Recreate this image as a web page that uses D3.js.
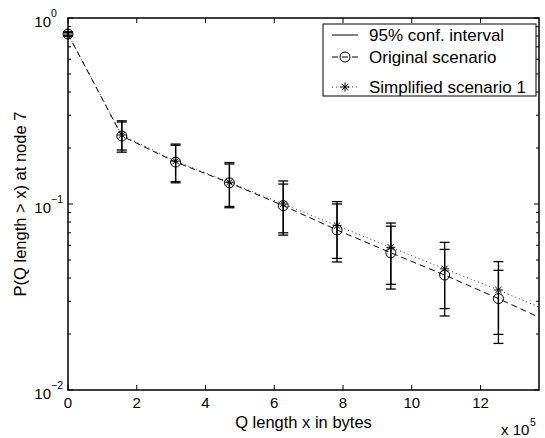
<!DOCTYPE html>
<html><head><meta charset="utf-8">
<script src="https://cdn.jsdelivr.net/npm/d3@7"></script>
<style>body{margin:0;background:#fff}svg{display:block}text{font-family:"Liberation Sans",Arial,sans-serif;fill:#000}</style>
</head><body><svg id="c" width="545" height="438"></svg>
<script>
// ---- data ----
const sampleX = [0, 156500, 313000, 469500, 626000, 782500, 939000, 1095500, 1252000];
const originalY = [0.82, 0.232, 0.168, 0.130, 0.098, 0.0725, 0.0547, 0.0415, 0.031];
const simplifiedY = [0.82, 0.235, 0.170, 0.131, 0.100, 0.0765, 0.0585, 0.0448, 0.0345];
const originalLo = [0.80, 0.190, 0.130, 0.0955, 0.068, 0.0488, 0.0349, 0.025, 0.0178];
const originalHi = [0.84, 0.276, 0.207, 0.164, 0.128, 0.100, 0.076, 0.057, 0.044];
const simplifiedLo = [0.80, 0.195, 0.132, 0.097, 0.070, 0.051, 0.037, 0.0274, 0.0199];
const simplifiedHi = [0.84, 0.280, 0.210, 0.167, 0.133, 0.103, 0.079, 0.0622, 0.049];
const lineEndX = 1370000;
const originalEndY = 0.0246;
const simplifiedEndY = 0.0279;
const xTicks = [0, 200000, 400000, 600000, 800000, 1000000, 1200000];
const xTickLabels = ["0", "2", "4", "6", "8", "10", "12"];
const yMajorTicks = [0.01, 0.1, 1];
const yTickExponents = ["\u22122", "\u22121", "0"];
const legendLabels = ["95% conf. interval", "Original scenario", "Simplified scenario 1"];

// ---- layout ----
const L = 68, R = 539, T = 18, B = 390;
const svg = d3.select("#c");
const x = d3.scaleLinear().domain([0, lineEndX]).range([L, R]);
const y = d3.scaleLog().domain([0.01, 1]).range([B, T]);

// minor ticks
const minor = [];
[0.01, 0.1].forEach(d => { for (let k = 2; k <= 9; k++) minor.push(d * k); });
const tk = svg.append("g").attr("stroke", "#000").attr("stroke-width", 1);
minor.forEach(v => {
  tk.append("line").attr("x1", L).attr("x2", L + 3).attr("y1", y(v)).attr("y2", y(v));
  tk.append("line").attr("x1", R).attr("x2", R - 3).attr("y1", y(v)).attr("y2", y(v));
});
yMajorTicks.forEach(v => {
  tk.append("line").attr("x1", L).attr("x2", L + 5).attr("y1", y(v)).attr("y2", y(v));
  tk.append("line").attr("x1", R).attr("x2", R - 5).attr("y1", y(v)).attr("y2", y(v));
});
xTicks.forEach(v => {
  tk.append("line").attr("x1", x(v)).attr("x2", x(v)).attr("y1", B).attr("y2", B - 5);
  tk.append("line").attr("x1", x(v)).attr("x2", x(v)).attr("y1", T).attr("y2", T + 5);
});

// tick labels
xTicks.forEach((v, i) => {
  svg.append("text").attr("x", x(v)).attr("y", B + 18).attr("text-anchor", "middle")
    .attr("font-size", 15).text(xTickLabels[i]);
});
yMajorTicks.forEach((v, i) => {
  svg.append("text").attr("x", 51).attr("y", y(v) + 9).attr("text-anchor", "end").attr("font-size", 15).text("10");
  svg.append("text").attr("x", 51).attr("y", y(v) - 1).attr("font-size", 10.5).text(yTickExponents[i]);
});

// axis labels
svg.append("text").attr("x", (L + R) / 2).attr("y", 428).attr("text-anchor", "middle")
  .attr("font-size", 16.5).text("Q length x in bytes");
svg.append("text").attr("transform", `translate(26,${(T + B) / 2}) rotate(-90)`).attr("text-anchor", "middle")
  .attr("font-size", 16.5).text("P(Q length > x) at node 7");
svg.append("text").attr("x", 501).attr("y", 435).attr("font-size", 15).text("x 10");
svg.append("text").attr("x", 530).attr("y", 426).attr("font-size", 10.5).text("5");

// lines
const origPts = sampleX.map((d, i) => [d, originalY[i]]).concat([[lineEndX, originalEndY]]);
const simpPts = sampleX.map((d, i) => [d, simplifiedY[i]]).concat([[lineEndX, simplifiedEndY]]);
const line = d3.line().x(d => x(d[0])).y(d => y(d[1]));
svg.append("path").attr("d", line(simpPts)).attr("fill", "none").attr("stroke", "#000")
  .attr("stroke-width", 0.8).attr("stroke-dasharray", "1,3");
svg.append("path").attr("d", line(origPts)).attr("fill", "none").attr("stroke", "#000")
  .attr("stroke-width", 1).attr("stroke-dasharray", "6,4");

// error bars
const eb = svg.append("g").attr("stroke", "#000").attr("stroke-width", 1.3);
function errBars(lo, hi) {
  sampleX.forEach((d, i) => {
    const cx = x(d);
    eb.append("line").attr("x1", cx).attr("x2", cx).attr("y1", y(lo[i])).attr("y2", y(hi[i]));
    [lo[i], hi[i]].forEach(v => eb.append("line").attr("x1", cx - 5).attr("x2", cx + 5).attr("y1", y(v)).attr("y2", y(v)));
  });
}
errBars(originalLo, originalHi);
errBars(simplifiedLo, simplifiedHi);

// markers
function circleMark(g, cx, cy) {
  g.append("circle").attr("cx", cx).attr("cy", cy).attr("r", 5).attr("fill", "none").attr("stroke", "#000").attr("stroke-width", 1);
}
function starMark(g, cx, cy) {
  const s = 4.5, d = 3.2;
  const p = `M${cx - s},${cy}L${cx + s},${cy}M${cx},${cy - s}L${cx},${cy + s}M${cx - d},${cy - d}L${cx + d},${cy + d}M${cx - d},${cy + d}L${cx + d},${cy - d}`;
  g.append("path").attr("d", p).attr("stroke", "#000").attr("stroke-width", 1).attr("fill", "none");
}
const mk = svg.append("g");
sampleX.forEach((d, i) => circleMark(mk, x(d), y(originalY[i])));
sampleX.forEach((d, i) => starMark(mk, x(d), y(simplifiedY[i])));

// frame
svg.append("rect").attr("x", L).attr("y", T).attr("width", R - L).attr("height", B - T)
  .attr("fill", "none").attr("stroke", "#000").attr("stroke-width", 1.5);

// legend
const lg = svg.append("g");
lg.append("rect").attr("x", 323).attr("y", 24).attr("width", 213).attr("height", 72)
  .attr("fill", "#fff").attr("stroke", "#000").attr("stroke-width", 1);
const ly = [35, 57, 87];
lg.append("line").attr("x1", 332).attr("x2", 358).attr("y1", ly[0]).attr("y2", ly[0]).attr("stroke", "#000").attr("stroke-width", 1);
lg.append("line").attr("x1", 332).attr("x2", 358).attr("y1", ly[1]).attr("y2", ly[1]).attr("stroke", "#000").attr("stroke-width", 1).attr("stroke-dasharray", "6,4");
circleMark(lg, 345, ly[1]);
lg.append("line").attr("x1", 332).attr("x2", 358).attr("y1", ly[2]).attr("y2", ly[2]).attr("stroke", "#000").attr("stroke-width", 0.8).attr("stroke-dasharray", "1,3");
starMark(lg, 345, ly[2]);
legendLabels.forEach((t, i) => lg.append("text").attr("x", 369).attr("y", ly[i] + 6).attr("font-size", 17).text(t));
</script></body></html>
